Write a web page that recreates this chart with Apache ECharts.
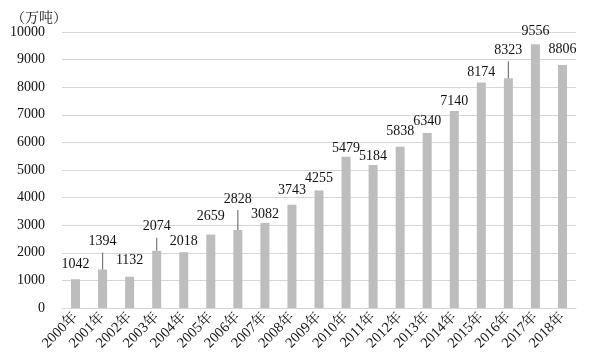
<!DOCTYPE html>
<html>
<head>
<meta charset="utf-8">
<script src="https://cdn.jsdelivr.net/npm/echarts@6/dist/echarts.min.js"></script>
<style>
html,body{margin:0;padding:0;background:#fff;}
#chart{width:598px;height:363px;}
</style>
</head>
<body>
<div id="chart"></div>
<script>
var years = ['2000年','2001年','2002年','2003年','2004年','2005年','2006年','2007年','2008年','2009年','2010年','2011年','2012年','2013年','2014年','2015年','2016年','2017年','2018年'];
var values = [1042,1394,1132,2074,2018,2659,2828,3082,3743,4255,5479,5184,5838,6340,7140,8174,8323,9556,8806];
var labelLift = [3,16,4,12,-1,6,19,-3,2,0,-4,-3,4,0,-2,-2,16,1,4];
var leaderLen = [0,17,0,13,0,0,20,0,0,0,0,0,0,0,0,0,17,0,0];
var yTicks = {min:0, max:10000, interval:1000};
var unitText = '（万吨）';

var serif = '"Liberation Serif","DejaVu Serif","Noto Serif CJK SC","Noto Sans CJK SC",serif';

var chart = echarts.init(document.getElementById('chart'));
var barData = values.map(function(v,i){
  return {value:v, label:{distance:5 + labelLift[i]}};
});
var leaderData = [];
values.forEach(function(v,i){ if(leaderLen[i]>0) leaderData.push([i, v, leaderLen[i]]); });

chart.setOption({
  animation:false,
  backgroundColor:'#fff',
  title:{text:unitText, left:6, top:6, textStyle:{fontFamily:serif, fontSize:14, fontWeight:'normal', color:'#222'}},
  grid:{left:62, right:22, top:32, bottom:55, containLabel:false},
  xAxis:{
    type:'category', data:years,
    axisLine:{show:true, lineStyle:{color:'#d6d6d6', width:1}},
    axisTick:{show:false},
    axisLabel:{rotate:45, interval:0, fontFamily:serif, fontSize:14.5, color:'#111', margin:7}
  },
  yAxis:{
    type:'value', min:yTicks.min, max:yTicks.max, interval:yTicks.interval,
    axisLine:{show:false}, axisTick:{show:false},
    splitLine:{lineStyle:{color:'#d6d6d6', width:1}},
    axisLabel:{fontFamily:serif, fontSize:14, color:'#111', margin:17,
      formatter:function(v){return String(v);}}
  },
  series:[{
    type:'bar', data:barData, barWidth:9,
    itemStyle:{color:'#bdbdbd'},
    label:{show:true, position:'top', fontFamily:serif, fontSize:14, color:'#111'}
  },{
    type:'custom', data:leaderData, silent:true, z:5,
    renderItem:function(params, api){
      var p = api.coord([api.value(0), api.value(1)]);
      var len = api.value(2);
      return {type:'line', shape:{x1:p[0], y1:p[1], x2:p[0], y2:p[1]-len},
        style:{stroke:'#777', lineWidth:1.2}};
    }
  }]
});
</script>
</body>
</html>
